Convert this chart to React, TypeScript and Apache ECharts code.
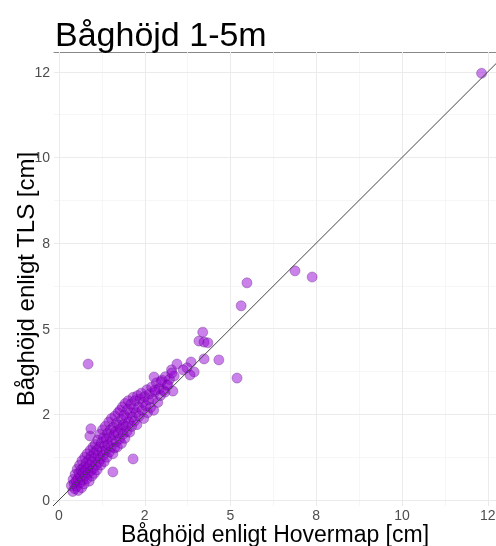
import React, { useEffect, useRef } from "react";
import * as echarts from "echarts";

const titleText = "Båghöjd 1-5m";
const xName = "Båghöjd enligt Hovermap [cm]";
const yName = "Båghöjd enligt TLS [cm]";

const tickValues = [0, 2.5, 5, 7.5, 10, 12.5];
const tickLabels = ["0", "2", "5", "8", "10", "12"];
const minorValues = [1.25, 3.75, 6.25, 8.75, 11.25];

// Hovermap (x) values
const hovermapLow = [
  0.36, 0.4, 0.41, 0.44, 0.46, 0.47, 0.5, 0.52, 0.53, 0.55, 0.56, 0.58, 0.6, 0.61, 0.63, 0.64, 0.66, 0.67, 0.69, 0.7,
  0.72, 0.73, 0.75, 0.76, 0.78, 0.79, 0.81, 0.82, 0.84, 0.85, 0.87, 0.88, 0.9, 0.91, 0.93, 0.94, 0.96, 0.97, 0.99, 1.0,
];
const tlsLow = [
  0.42, 0.25, 0.6, 0.48, 0.33, 0.75, 0.55, 0.4, 0.9, 0.62, 0.28, 0.78, 1.02, 0.5, 0.68, 0.88, 0.36, 1.15, 0.58, 0.8,
  0.95, 0.47, 1.25, 0.7, 0.88, 1.08, 0.62, 1.35, 0.95, 0.78, 1.18, 0.55, 1.02, 1.45, 0.85, 1.28, 0.7, 1.12, 1.55, 0.92,
];
const hovermapMid = [
  1.02, 1.03, 1.05, 1.06, 1.08, 1.1, 1.11, 1.13, 1.14, 1.16, 1.18, 1.19, 1.21, 1.22, 1.24, 1.26, 1.27, 1.29, 1.3, 1.32,
  1.34, 1.35, 1.37, 1.38, 1.4, 1.42, 1.43, 1.45, 1.47, 1.48, 1.5, 1.52, 1.53, 1.55, 1.57, 1.58, 1.6, 1.62, 1.63, 1.65,
  1.67, 1.68, 1.7, 1.72, 1.73, 1.75, 1.77, 1.78, 1.8, 1.82, 1.83, 1.85, 1.87, 1.88, 1.9, 1.92, 1.93, 1.95, 1.97, 1.98,
  2.0,
];
const tlsMid = [
  1.38, 0.78, 1.22, 1.62, 1.02, 1.45, 0.88, 1.75, 1.3, 1.1, 1.55, 1.92, 1.2, 1.02, 1.68, 1.42, 2.05, 1.3, 1.82, 1.12,
  1.58, 2.15, 1.45, 1.78, 1.25, 1.95, 1.62, 2.28, 1.4, 1.85, 2.05, 1.55, 2.38, 1.72, 1.35, 2.12, 1.9, 1.52, 2.45, 2.0,
  1.7, 2.25, 1.55, 2.55, 1.95, 2.18, 1.78, 2.62, 2.08, 1.65, 2.35, 2.72, 1.92, 2.2, 2.48, 1.8, 2.82, 2.15, 2.4, 2.0,
  2.65,
];
const hovermapHigh = [
  2.02, 2.04, 2.06, 2.08, 2.1, 2.12, 2.14, 2.16, 2.18, 2.2, 2.22, 2.25, 2.27, 2.29, 2.32, 2.34, 2.37, 2.4, 2.42, 2.45,
  2.47, 2.5, 2.53, 2.56, 2.58, 2.61, 2.64, 2.67, 2.7, 2.73, 2.76, 2.8, 2.84, 2.88, 2.92, 2.96, 3.0, 3.05, 3.1, 3.15,
  3.22, 3.28, 3.36,
];
const tlsHigh = [
  2.9, 2.28, 1.98, 2.55, 2.8, 2.15, 2.42, 3.0, 2.68, 2.3, 2.9, 2.55, 2.2, 3.05, 2.72, 2.45, 2.95, 3.12, 2.62, 2.85,
  2.38, 3.02, 2.75, 3.22, 2.55, 2.92, 3.1, 2.7, 3.3, 2.95, 2.62, 3.15, 3.42, 2.85, 3.25, 3.05, 3.5, 3.2, 3.6, 3.35,
  3.52, 3.8, 3.62,
];
const hovermapSparse = [
  0.85, 0.9, 0.93, 1.57, 2.16, 4.08, 4.23, 4.34, 4.19, 4.23, 4.66, 5.19, 3.44, 3.85, 3.73, 3.94, 3.62, 3.29, 3.82, 2.77,
  2.97, 3.18, 2.8, 3.32, 3.09, 5.48, 5.31, 6.88, 7.38, 12.32,
];
const tlsSparse = [
  3.97, 1.87, 2.08, 0.82, 1.2, 4.64, 4.61, 4.59, 4.9, 4.12, 4.09, 3.56, 3.97, 4.03, 3.86, 3.74, 3.8, 3.71, 3.65, 3.59,
  3.45, 3.36, 3.21, 3.18, 3.15, 6.34, 5.67, 6.69, 6.51, 12.46,
];

const identityLine = [
  [-0.5, -0.5],
  [14, 14],
];

export default function App() {
  const ref = useRef<HTMLDivElement>(null);
  useEffect(() => {
    if (!ref.current) return;
    const chart = echarts.init(ref.current, undefined, { renderer: "svg" });
    const xs = [...hovermapLow, ...hovermapMid, ...hovermapHigh, ...hovermapSparse];
    const ys = [...tlsLow, ...tlsMid, ...tlsHigh, ...tlsSparse];
    const points = xs.map((x, i) => [x, ys[i]]);
    const gridLineData: any[] = [];
    minorValues.forEach((v) => {
      gridLineData.push({ xAxis: v, lineStyle: { color: "#f4f4f4", width: 0.8, type: "solid" } });
      gridLineData.push({ yAxis: v, lineStyle: { color: "#f4f4f4", width: 0.8, type: "solid" } });
    });
    tickValues.forEach((v) => {
      gridLineData.push({ xAxis: v, lineStyle: { color: "#ebebeb", width: 1, type: "solid" } });
      gridLineData.push({ yAxis: v, lineStyle: { color: "#ebebeb", width: 1, type: "solid" } });
    });
    const labelFmt = (v: number) => {
      const i = tickValues.findIndex((t) => Math.abs(t - v) < 1e-6);
      return i >= 0 ? tickLabels[i] : "";
    };
    chart.setOption({
      animation: false,
      title: {
        text: titleText,
        left: 50,
        top: 12,
        textStyle: {
          fontFamily: "Liberation Sans",
          fontSize: 34,
          fontWeight: "normal",
          color: "#000",
        },
      },
      grid: { left: 54, right: 0, top: 52, bottom: 40, containLabel: false, outerBoundsMode: "none" },
      xAxis: [
        {
          type: "value",
          min: -0.146,
          max: 12.74,
          name: xName,
          nameLocation: "middle",
          nameGap: 16,
          nameMoveOverlap: false,
          nameTextStyle: { fontFamily: "Liberation Sans", fontSize: 23, lineHeight: 23, color: "#000" },
          axisLine: { show: true, lineStyle: { color: "#888", width: 1 } },
          axisTick: { show: true, customValues: tickValues, length: 3, lineStyle: { color: "#888" } },
          axisLabel: {
            customValues: tickValues,
            formatter: labelFmt,
            margin: 2,
            lineHeight: 13,
            fontFamily: "Liberation Sans",
            fontSize: 14,
            color: "#4d4d4d",
          },
          splitLine: { show: false },
        },
        {
          type: "value",
          position: "top",
          min: -0.146,
          max: 12.74,
          axisLine: { show: true, lineStyle: { color: "#888", width: 1 } },
          axisTick: { show: false },
          axisLabel: { show: false },
          splitLine: { show: false },
        },
      ],
      yAxis: {
        type: "value",
        min: -0.175,
        max: 13.08,
        name: yName,
        nameLocation: "middle",
        nameGap: 17,
        nameMoveOverlap: false,
        nameTextStyle: { fontFamily: "Liberation Sans", fontSize: 24, color: "#000" },
        axisLine: { show: false },
        axisTick: { show: true, customValues: tickValues, length: 3, lineStyle: { color: "#888" } },
        axisLabel: {
          customValues: tickValues,
          formatter: labelFmt,
          margin: 4,
          fontFamily: "Liberation Sans",
          fontSize: 14,
          color: "#4d4d4d",
        },
        splitLine: { show: false },
      },
      series: [
        {
          type: "line",
          data: [],
          z: 1,
          silent: true,
          markLine: {
            silent: true,
            symbol: "none",
            z: 1,
            label: { show: false },
            data: gridLineData,
          },
        },
        {
          type: "scatter",
          data: points,
          z: 3,
          symbolSize: 10,
          itemStyle: {
            color: "rgba(148,0,211,0.62)",
            borderColor: "rgba(70,0,110,0.55)",
            borderWidth: 0.7,
          },
        },
        {
          type: "line",
          data: identityLine,
          z: 4,
          symbol: "none",
          clip: true,
          lineStyle: { color: "#444", width: 1 },
        },
      ],
    });
    return () => chart.dispose();
  }, []);
  return (
    <div
      ref={ref}
      style={{ position: "fixed", left: 0, top: 0, width: 496, height: 546 }}
    />
  );
}
